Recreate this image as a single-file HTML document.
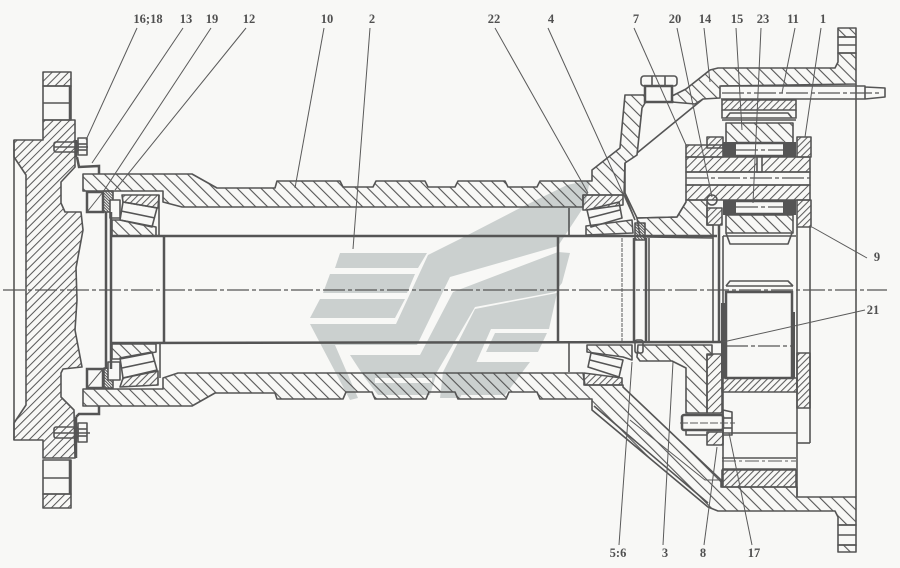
<!DOCTYPE html>
<html><head><meta charset="utf-8"><style>
html,body{margin:0;padding:0;background:#f8f8f6}
svg{display:block}
text{font-family:"Liberation Serif",serif;font-weight:bold;font-size:12.5px;fill:#505050;text-anchor:middle}
.w{fill:#cbd0cf;stroke:none}
.h{stroke:#555;stroke-width:1.6;fill:none;stroke-linejoin:round}
.a{fill:url(#a)}.b{fill:url(#b)}.c{fill:url(#c)}.d{fill:url(#d)}
.n{fill:none}
.t{stroke:#555;stroke-width:2.5;fill:none}
.l{stroke:#5a5a5a;stroke-width:1;fill:none}
.k{fill:#555;stroke:none}
.e{stroke:#555;stroke-width:1.2;fill:none;stroke-dasharray:22 3 4 3}
</style></head><body>
<svg width="900" height="568" viewBox="0 0 900 568" xmlns="http://www.w3.org/2000/svg">
<defs>
<pattern id="a" width="5.8" height="5.8" patternUnits="userSpaceOnUse" patternTransform="rotate(45)"><line x1="1" y1="0" x2="1" y2="5.8" stroke="#555" stroke-width="1"/></pattern>
<pattern id="b" width="8.4" height="8.4" patternUnits="userSpaceOnUse" patternTransform="rotate(-45)"><line x1="1" y1="0" x2="1" y2="8.4" stroke="#555" stroke-width="1.1"/></pattern>
<pattern id="c" width="4.6" height="4.6" patternUnits="userSpaceOnUse" patternTransform="rotate(45)"><line x1="1" y1="0" x2="1" y2="4.6" stroke="#555" stroke-width="1"/></pattern>
<pattern id="d" width="2" height="2" patternUnits="userSpaceOnUse" patternTransform="rotate(-45)"><line x1="1" y1="0" x2="1" y2="2" stroke="#555" stroke-width="1"/></pattern>
</defs>
<rect width="900" height="568" fill="#f8f8f6"/>

<!-- watermark -->
<g>
<polygon class="w" points="340,253 427,253 418,268 335,268"/>
<polygon class="w" points="330,274 415,274 407,293 323,293"/>
<polygon class="w" points="320,299 405,299 395,318 310,318"/>
<polygon class="w" points="310,324 396,324 428,255 462,238 520,208 567,185 590,180 585,205 558,246 450,277 417,345 335,345 358,398 350,400"/>
<polygon class="w" points="350,355 420,355 453,292 558,252 570,253 562,283 555,292 475,307 437,372 430,395 378,395 365,378"/>
<rect x="375" y="378" width="57" height="5" fill="#f8f8f6"/>
<polygon class="w" points="475,309 557,293 549,329 491,329 472,372 460,398 440,398 443,372"/>
<polygon class="w" points="495,333 547,333 538,352 486,352"/>
<polygon class="w" points="470,362 530,362 505,395 460,395"/>
</g>

<!-- left flange -->
<polygon class="h a" points="43,120 75,120 75,167 61,182 61,203 65,212 81,212 83,230 76,268 77,300 75,330 82,367 63,369 61,373 61,397 74,410 75,458 43,458 43,440 14,440 14,423 26,405 26,175 14,157 14,140 43,140"/>
<line class="h" x1="14" y1="140" x2="14" y2="440"/>
<rect class="h a" x="43" y="72" width="28" height="14"/>
<rect class="h" x="43" y="86" width="28" height="34"/>
<line class="h" x1="43" y1="103" x2="71" y2="103"/>
<line class="t" x1="70" y1="86" x2="70" y2="120"/>
<rect class="h a" x="43" y="494" width="28" height="14"/>
<rect class="h" x="43" y="460" width="28" height="34"/>
<line class="h" x1="43" y1="478" x2="71" y2="478"/>
<line class="t" x1="70" y1="460" x2="70" y2="494"/>

<!-- bolts left -->
<g class="h">
<rect x="54" y="142" width="24" height="10" rx="2"/><line x1="54" y1="147" x2="88" y2="147"/>
<rect x="78" y="138" width="9" height="17"/><line x1="78" y1="144" x2="87" y2="144"/><line x1="78" y1="150" x2="87" y2="150"/>
<rect x="54" y="427" width="24" height="11" rx="2"/><line x1="54" y1="433" x2="90" y2="433"/>
<rect x="78" y="423" width="9" height="19"/><line x1="78" y1="429" x2="87" y2="429"/><line x1="78" y1="436" x2="87" y2="436"/>
</g>
<polyline class="t" points="77,157 79,167 99,166 99,174"/>
<polyline class="t" points="76,417 79,414 99,414 99,406"/>
<line class="t" x1="76" y1="140" x2="76" y2="157"/>
<line class="t" x1="76" y1="417" x2="76" y2="458"/>

<!-- tube + housing top -->
<polygon class="h b" points="83,174 192,174 217,188 275,188 277,181 340,181 343,187 373,187 376,181 425,181 428,187 455,187 458,181 505,181 508,187 537,187 540,181 592,181 592,170 620,148 625,95 645,95 645,103 642,108 637,155 625,163 624,195 583,195 583,207 182,207 163,202 163,191 83,191"/>
<polygon class="h b" points="672,102 672,96 686,89 710,70 718,68 835,68 838,62 838,53 856,53 856,84 720,86 720,98 703,99 695,104"/>
<line class="h" x1="703" y1="99" x2="637" y2="153"/>
<rect class="h b" x="838" y="28" width="18" height="9"/>
<rect class="h" x="838" y="37" width="18" height="16"/>
<line class="h" x1="838" y1="45" x2="856" y2="45"/>
<line class="h" x1="625" y1="163" x2="625" y2="193"/>
<polyline class="h" points="625,193 637,218 677,217 686,202"/>

<!-- plug -->
<rect class="h" x="641" y="76" width="36" height="10" rx="3"/>
<line class="h" x1="652" y1="76" x2="652" y2="86"/><line class="h" x1="665" y1="76" x2="665" y2="86"/>
<rect class="t" x="645" y="86" width="27" height="16"/>

<!-- tube + housing bottom -->
<polygon class="h b" points="83,406 192,406 215,393 275,393 277,399 343,399 346,392 372,392 375,399 426,399 429,392 455,392 458,399 506,399 509,392 537,392 540,399 592,399 592,410 708,507 718,511 835,511 838,517 838,525 856,525 856,497 797,497 797,487 721,487 721,480 623,387 623,385 585,385 583,373 178,373 163,378 163,389 83,389"/>
<line class="h" x1="594" y1="406" x2="708" y2="503"/>
<polyline class="l" points="630,420 705,480 721,480"/>
<rect class="h b" x="838" y="545" width="18" height="7"/>
<rect class="h" x="838" y="525" width="18" height="20"/>
<line class="h" x1="838" y1="535" x2="856" y2="535"/>
<line class="h" x1="856" y1="84" x2="856" y2="497"/>

<!-- left bearing top -->
<rect class="t" x="87" y="192" width="16" height="20"/><line class="l" x1="87" y1="212" x2="103" y2="192"/>
<rect class="h d" x="103" y="191" width="10" height="21"/>
<rect class="h" x="110" y="200" width="10" height="18" style="fill:#f8f8f6"/>
<polygon class="h c" points="122,195 159,195 158,208 123,202"/>
<polygon class="h" points="123,202 157,208 152,227 120,220"/><line class="h" x1="121" y1="211" x2="155" y2="218"/>
<polygon class="h b" points="112,220 120,220 156,227 156,236 112,236"/>
<line class="h" x1="159" y1="195" x2="159" y2="236"/>
<!-- left bearing bottom -->
<rect class="t" x="87" y="369" width="16" height="19"/><line class="l" x1="87" y1="388" x2="103" y2="369"/>
<rect class="h d" x="104" y="368" width="9" height="20"/>
<rect class="h" x="108" y="362" width="12" height="18" style="fill:#f8f8f6"/>
<polygon class="h b" points="112,344 156,344 156,352 120,359 112,359"/>
<polygon class="h" points="120,358 152,352 157,370 123,378"/><line class="h" x1="122" y1="368" x2="155" y2="361"/>
<polygon class="h c" points="123,378 158,371 158,385 120,387"/>
<line class="h" x1="160" y1="344" x2="160" y2="378"/>

<!-- shaft -->
<line class="t" x1="112" y1="236" x2="717" y2="236"/>
<line class="t" x1="112" y1="343" x2="722" y2="342"/>
<line class="t" x1="106" y1="212" x2="106" y2="369"/>
<line class="t" x1="111" y1="212" x2="111" y2="369"/>
<line class="t" x1="164" y1="236" x2="164" y2="344"/>
<line class="t" x1="558" y1="236" x2="558" y2="343"/>
<line class="h" x1="569" y1="208" x2="569" y2="235"/>
<line class="h" x1="569" y1="343" x2="569" y2="372"/>
<line class="l" x1="622" y1="238" x2="622" y2="341" stroke-dasharray="4 1"/>
<line class="t" x1="634" y1="238" x2="634" y2="341"/>
<line class="t" x1="646" y1="238" x2="646" y2="341"/>
<line class="h" x1="649" y1="238" x2="649" y2="341"/>
<line class="h" x1="713" y1="238" x2="713" y2="341"/>
<line class="t" x1="719" y1="225" x2="719" y2="342"/>

<!-- right bearing top -->
<polygon class="h c" points="583,195 623,195 623,205 587,210 583,210"/>
<polygon class="h" points="587,210 619,202 622,218 591,227"/><line class="h" x1="589" y1="218" x2="620" y2="210"/>
<polygon class="h b" points="586,226 632,220 633,233 586,235"/>
<line class="h" x1="625" y1="195" x2="635" y2="220"/>
<rect class="h d" x="635" y="223" width="10" height="17"/>
<!-- right bearing bottom -->
<polygon class="h b" points="587,345 632,345 632,360 623,357 587,352"/>
<polygon class="h" points="591,353 623,360 619,377 588,367"/><line class="h" x1="590" y1="360" x2="621" y2="368"/>
<polygon class="h c" points="584,373 622,378 622,385 584,385"/>
<rect class="h" x="635" y="340" width="8" height="13" rx="2"/>

<!-- carrier top/bottom -->
<polygon class="h b" points="637,218 677,217 686,202 686,200 707,200 707,225 713,225 713,238 647,237 640,236"/>
<polygon class="h b" points="638,345 712,345 712,355 707,355 707,413 686,413 686,368 672,361 640,361 637,357"/>
<rect class="h a" x="707" y="354" width="15" height="59"/>
<rect class="h a" x="707" y="432" width="16" height="13"/>
<polyline class="h" points="686,430 686,435 707,435"/>
<rect class="t" x="682" y="415" width="41" height="15" rx="2"/>
<line class="l" x1="680" y1="423" x2="735" y2="423" stroke-dasharray="8 2"/>
<polygon class="h" points="723,410 732,412 732,435 723,435"/>
<line class="h" x1="723" y1="418" x2="732" y2="418"/><line class="h" x1="723" y1="428" x2="732" y2="428"/>

<!-- planet top -->
<rect class="h c" x="722" y="100" width="74" height="10"/>
<polyline class="h" points="722,110 722,118 796,118 796,110"/>
<polyline class="h" points="726,118 730,113 788,113 792,118"/>
<line class="h" x1="722" y1="120" x2="796" y2="120"/>
<rect class="h b" x="726" y="123" width="67" height="20"/>
<rect class="k" x="723" y="142" width="13" height="15"/>
<rect class="k" x="783" y="142" width="13" height="15"/>
<line class="t" x1="736" y1="143" x2="783" y2="143"/>
<line class="t" x1="736" y1="156" x2="783" y2="156"/>
<line class="e" x1="736" y1="150" x2="783" y2="150"/>
<rect class="h c" x="707" y="137" width="16" height="11"/>
<rect class="h c" x="686" y="145" width="37" height="12"/>
<rect class="h c" x="797" y="137" width="14" height="20"/>
<rect class="h a" x="686" y="157" width="124" height="15"/>
<rect class="h" x="757" y="157" width="5" height="15" style="fill:#f8f8f6"/>
<rect class="h" x="686" y="172" width="124" height="13"/>
<line class="e" x1="686" y1="178" x2="810" y2="178"/>
<rect class="h a" x="686" y="185" width="124" height="15"/>
<rect class="k" x="723" y="200" width="13" height="15"/>
<rect class="k" x="783" y="200" width="13" height="15"/>
<line class="t" x1="736" y1="201" x2="783" y2="201"/>
<line class="t" x1="736" y1="214" x2="783" y2="214"/>
<line class="e" x1="736" y1="207" x2="783" y2="207"/>
<rect class="h c" x="707" y="208" width="15" height="17"/>
<circle class="h" cx="712" cy="200" r="5"/>
<polygon class="h c" points="797,200 811,200 811,227 797,227"/>
<rect class="h b" x="726" y="215" width="67" height="18"/>
<polyline class="h" points="726,233 730,244 788,244 792,233"/>
<line class="h" x1="723" y1="236" x2="796" y2="236"/>

<!-- gear lower -->
<polyline class="h" points="726,286 730,281 788,281 793,286"/>
<rect class="t" x="726" y="292" width="66" height="86"/>
<line class="h" x1="726" y1="286" x2="793" y2="286"/>
<line class="e" x1="726" y1="346" x2="792" y2="346"/>
<rect class="k" x="721" y="303" width="4" height="75"/>
<rect class="k" x="792" y="312" width="3" height="66"/>
<line class="h" x1="723" y1="236" x2="723" y2="487"/>
<line class="h" x1="797" y1="227" x2="797" y2="497"/>
<rect class="h c" x="722" y="378" width="75" height="14"/>
<line class="h" x1="722" y1="433" x2="797" y2="433"/>
<line class="h" x1="722" y1="458" x2="796" y2="458"/>
<line class="l" x1="722" y1="461" x2="796" y2="461" stroke-dasharray="14 3 3 3"/>
<line class="h" x1="722" y1="469" x2="796" y2="469"/>
<rect class="h c" x="722" y="470" width="74" height="17"/>
<line class="h" x1="810" y1="227" x2="810" y2="443"/>
<rect class="h c" x="797" y="353" width="13" height="55"/>
<polyline class="h" points="797,443 810,443"/>

<!-- pin 11 -->
<path class="h" d="M721,86 H865 V99 H721 M865,87 L885,88 V97 L865,99"/>
<line class="e" x1="722" y1="93" x2="880" y2="93"/>

<!-- centreline -->
<line class="e" x1="3" y1="290" x2="887" y2="290"/>

<!-- leaders -->
<g class="l">
<line x1="137" y1="28" x2="86" y2="140"/>
<line x1="183" y1="28" x2="92" y2="163"/>
<line x1="211" y1="28" x2="103" y2="192"/>
<line x1="246" y1="28" x2="115" y2="190"/>
<line x1="324" y1="28" x2="295" y2="188"/>
<line x1="370" y1="28" x2="353" y2="249"/>
<line x1="495" y1="28" x2="588" y2="193"/>
<line x1="548" y1="28" x2="635" y2="220"/>
<line x1="634" y1="28" x2="686" y2="145"/>
<line x1="677" y1="28" x2="712" y2="197"/>
<line x1="704" y1="28" x2="710" y2="82"/>
<line x1="736" y1="28" x2="742" y2="130"/>
<line x1="761" y1="28" x2="753" y2="203"/>
<line x1="795" y1="28" x2="782" y2="93"/>
<line x1="821" y1="28" x2="805" y2="137"/>
<line x1="812" y1="227" x2="867" y2="258"/>
<line x1="865" y1="310" x2="723" y2="342"/>
<line x1="619" y1="545" x2="632" y2="362"/>
<line x1="663" y1="545" x2="673" y2="362"/>
<line x1="704" y1="545" x2="717" y2="447"/>
<line x1="752" y1="545" x2="729" y2="433"/>
</g>

<!-- labels -->
<text x="148" y="23">16;18</text>
<text x="186" y="23">13</text>
<text x="212" y="23">19</text>
<text x="249" y="23">12</text>
<text x="327" y="23">10</text>
<text x="372" y="23">2</text>
<text x="494" y="23">22</text>
<text x="551" y="23">4</text>
<text x="636" y="23">7</text>
<text x="675" y="23">20</text>
<text x="705" y="23">14</text>
<text x="737" y="23">15</text>
<text x="763" y="23">23</text>
<text x="793" y="23">11</text>
<text x="823" y="23">1</text>
<text x="877" y="261">9</text>
<text x="873" y="314">21</text>
<text x="618" y="557">5:6</text>
<text x="665" y="557">3</text>
<text x="703" y="557">8</text>
<text x="754" y="557">17</text>
</svg>
</body></html>
